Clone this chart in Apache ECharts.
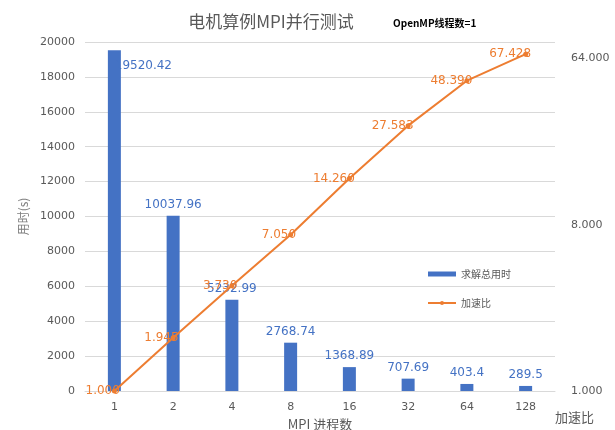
<!DOCTYPE html>
<html><head><meta charset="utf-8">
<script src="https://cdn.jsdelivr.net/npm/echarts@6/dist/echarts.min.js"></script>
<style>html,body{margin:0;padding:0;background:#fff}#c{width:615px;height:430px}</style>
</head><body><div id="c"></div>
<script>
const categories = ['1','2','4','8','16','32','64','128'];
const timeValues = [19520.42,10037.96,5232.99,2768.74,1368.89,707.69,403.4,289.5];
const speedupValues = [1.000,1.945,3.730,7.050,14.260,27.583,48.390,67.428];
const leftTicks = [0,2000,4000,6000,8000,10000,12000,14000,16000,18000,20000];
const rightTicks = [1,8,64];

const numFont = 'DejaVu Sans';
const cjkFont = 'Noto Sans CJK SC';
const chart = echarts.init(document.getElementById('c'), null, {renderer:'canvas'});
chart.setOption({
  animation:false,
  backgroundColor:'#fff',
  title:[
    {text:'电机算例MPI并行测试', left:266, top:8, textAlign:'center',
     textStyle:{fontFamily:cjkFont, fontSize:17, fontWeight:'normal', color:'#595959'}},
    {text:'OpenMP线程数=1', left:388, top:13,
     textStyle:{fontFamily:cjkFont, fontSize:10, fontWeight:'bold', color:'#000'}}
  ],
  legend:{
    orient:'vertical', left:422, top:264, itemGap:19, itemWidth:28, itemHeight:5,
    textStyle:{fontFamily:cjkFont, fontSize:10, color:'#595959'},
    data:[{name:'求解总用时', icon:'rect'},{name:'加速比'}]
  },
  grid:{left:85, right:60, top:42, bottom:39, containLabel:false, outerBoundsMode:'none'},
  xAxis:{
    type:'category', data:categories,
    name:'MPI 进程数', nameLocation:'middle', nameGap:15,
    nameTextStyle:{fontFamily:cjkFont, fontSize:13, color:'#595959'},
    axisLine:{lineStyle:{color:'#D9D9D9'}}, axisTick:{show:false},
    axisLabel:{fontFamily:numFont, fontSize:11, color:'#595959', margin:11}
  },
  yAxis:[
    {type:'value', min:0, max:20000, interval:2000,
     name:'用时(s)', nameLocation:'middle', nameGap:44, nameRotate:90,
     nameTextStyle:{fontFamily:cjkFont, fontSize:12, color:'#7f7f7f'},
     axisLine:{show:false}, axisTick:{show:false},
     axisLabel:{fontFamily:numFont, fontSize:11, color:'#595959', margin:10,
       customValues:leftTicks, formatter:v=>String(v)},
     splitLine:{lineStyle:{color:'#D9D9D9', width:1}}},
    {type:'log', logBase:8, min:1, max:78.5, position:'right',
     name:'加速比', nameLocation:'start', nameGap:20,
     nameTextStyle:{fontFamily:cjkFont, fontSize:13, color:'#595959', align:'left', verticalAlign:'top'},
     axisLine:{show:false}, axisTick:{show:false}, splitLine:{show:false},
     axisLabel:{fontFamily:numFont, fontSize:11, color:'#595959', margin:16,
       customValues:rightTicks,
       formatter:v=>Number(v).toFixed(3)}}
  ],
  series:[
    {name:'求解总用时', type:'bar', yAxisIndex:0, barWidth:13,
     itemStyle:{color:'#4472C4'},
     label:{show:true, position:'top', distance:5, color:'#4472C4', fontFamily:numFont, fontSize:12},
     data:timeValues.map((v,i)=> i===0 ? {value:v, label:{position:'insideTop', offset:[29,5]}} : v)},
    {name:'加速比', type:'line', yAxisIndex:1,
     symbol:'circle', symbolSize:5, itemStyle:{color:'#ED7D31'},
     lineStyle:{color:'#ED7D31', width:2},
     label:{show:true, position:'left', distance:-8, color:'#ED7D31', fontFamily:numFont, fontSize:12,
       formatter:p=>Number(p.value).toFixed(3)},
     data:speedupValues}
  ]
});
</script></body></html>
